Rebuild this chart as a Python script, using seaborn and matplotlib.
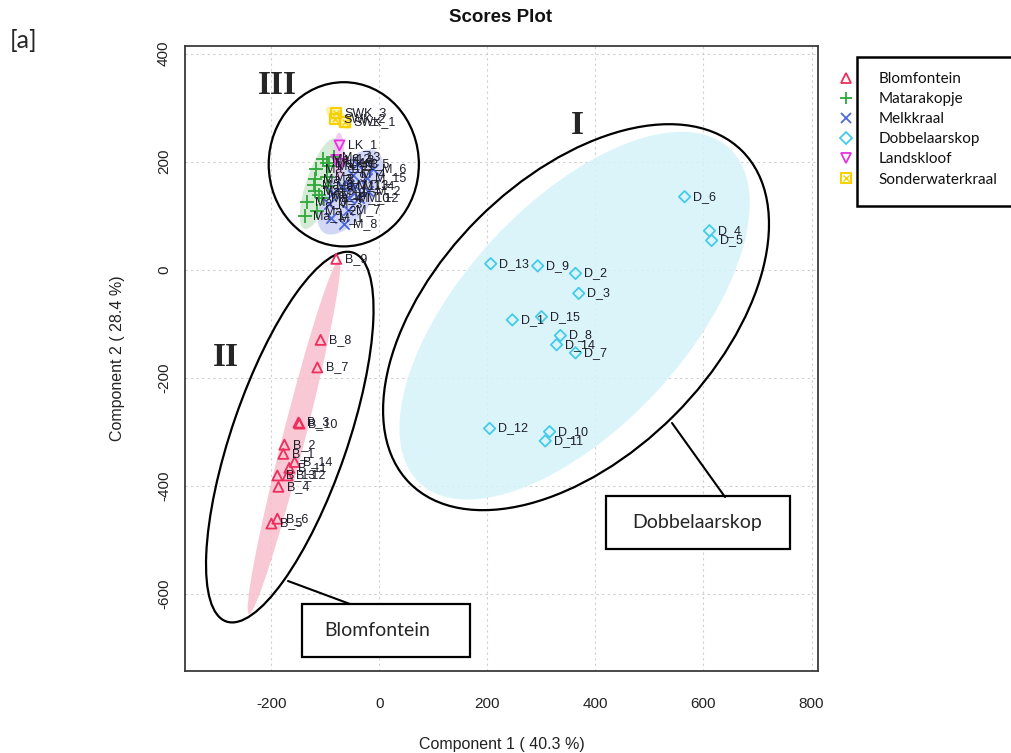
import numpy as np
import pandas as pd
import matplotlib
matplotlib.use("Agg")
import matplotlib.pyplot as plt
import seaborn as sns
from matplotlib.patches import Ellipse, Rectangle
from matplotlib.lines import Line2D
from matplotlib.legend_handler import HandlerTuple

sns.set_theme(style="white")
plt.rcParams['font.family'] = ['Liberation Sans', 'DejaVu Sans']

# ---------------- data (PCA scores) ----------------
groups = ["Blomfontein", "Matarakopje", "Melkkraal", "Dobbelaarskop",
          "Landskloof", "Sonderwaterkraal"]

b_labels = ["B_1", "B_2", "B_3", "B_4", "B_5", "B_6", "B_7", "B_8", "B_9",
            "B_10", "B_11", "B_12", "B_13", "B_14"]
b_pc1 = [-178, -176, -150, -187, -200, -189, -115, -109, -80, -148, -167, -170, -189, -157]
b_pc2 = [-341, -324, -283, -402, -470, -461, -181, -130, 20, -285, -367, -381, -381, -356]

ma_labels = ["Ma_%d" % i for i in range(1, 16)]
ma_pc1 = [-138, -116, -134, -106, -119, -121, -96, -120, -98, -117, -94, -104, -84, -111, -98]
ma_pc2 = [100, 108, 125, 132, 146, 157, 154, 168, 171, 187, 191, 204, 208, 138, 197]

m_labels = ["M_1", "M_8", "M_3", "M_7", "M_9", "M_10", "M_11", "M_12", "M_13",
            "M_2", "M_4", "M_15", "M_5", "M_6", "M_14"]
m_pc1 = [-90, -65, -93, -59, -86, -56, -70, -38, -57, -22, -49, -23, -42, -11, -45]
m_pc2 = [95, 84, 122, 110, 141, 132, 155, 132, 157, 145, 176, 170, 196, 186, 155]

d_labels = ["D_1", "D_2", "D_3", "D_4", "D_5", "D_6", "D_7", "D_8", "D_9",
            "D_10", "D_11", "D_12", "D_13", "D_14", "D_15"]
d_pc1 = [246, 363, 369, 611, 615, 565, 363, 335, 293, 315, 307, 204, 206, 328, 300]
d_pc2 = [-93, -7, -44, 72, 54, 135, -154, -122, 7, -300, -317, -294, 11, -139, -87]

lk_labels = ["LK_1", "LK_2", "LK_3"]
lk_pc1 = [-74, -80, -72]
lk_pc2 = [230, 203, 196]

swk_labels = ["SWK_1", "SWK_2", "SWK_3"]
swk_pc1 = [-64, -82, -80]
swk_pc2 = [273, 279, 290]

x_ticks = [-200, 0, 200, 400, 600, 800]
y_ticks = [-600, -400, -200, 0, 200, 400]

frames = []
for g, lab, xs, ys in [
    ("Blomfontein", b_labels, b_pc1, b_pc2),
    ("Matarakopje", ma_labels, ma_pc1, ma_pc2),
    ("Melkkraal", m_labels, m_pc1, m_pc2),
    ("Dobbelaarskop", d_labels, d_pc1, d_pc2),
    ("Landskloof", lk_labels, lk_pc1, lk_pc2),
    ("Sonderwaterkraal", swk_labels, swk_pc1, swk_pc2),
]:
    frames.append(pd.DataFrame({"group": g, "label": lab, "pc1": xs, "pc2": ys}))
df = pd.concat(frames, ignore_index=True)

# ---------------- styles ----------------
colors = {"Blomfontein": "#EE2E5C", "Matarakopje": "#2FA83C", "Melkkraal": "#4D66E0",
          "Dobbelaarskop": "#45CBEA", "Landskloof": "#E334E0", "Sonderwaterkraal": "#F7D000"}
fills = {"Blomfontein": "#F7BFCD", "Matarakopje": "#CFE8CE", "Melkkraal": "#C9D1F3",
         "Dobbelaarskop": "#D5F3FA", "Landskloof": "#F5C4F3", "Sonderwaterkraal": "#FFF0A8"}

W, H = 1012, 753
fig = plt.figure(figsize=(W / 100, H / 100), dpi=100)
fig.patch.set_facecolor("white")
ax_l, ax_r, ax_t, ax_b = 185, 818, 46, 671
ax = fig.add_axes([ax_l / W, 1 - ax_b / H, (ax_r - ax_l) / W, (ax_b - ax_t) / H])
ax.set_xlim(-360, 812)
ax.set_ylim(-743, 414)


def fx(px):
    return px / W


def fy(py):
    return 1 - py / H


# 95% confidence ellipses from each group's scores
chi = np.sqrt(5.991464547)
for g in groups:
    sub = df[df.group == g]
    cov = np.cov(sub.pc1, sub.pc2)
    vals, vecs = np.linalg.eigh(cov)
    order = vals.argsort()[::-1]
    vals, vecs = vals[order], vecs[:, order]
    ang = np.degrees(np.arctan2(vecs[1, 0], vecs[0, 0]))
    e = Ellipse((sub.pc1.mean(), sub.pc2.mean()), 2 * chi * np.sqrt(vals[0]),
                2 * chi * np.sqrt(vals[1]), angle=ang, facecolor=fills[g],
                edgecolor="none", alpha=0.85, zorder=1)
    ax.add_patch(e)

# points
open_markers = {"Blomfontein": "^", "Dobbelaarskop": "D", "Landskloof": "v"}
for g in groups:
    sub = df[df.group == g]
    c = colors[g]
    if g in open_markers:
        sz = 34 if g == "Dobbelaarskop" else 52
        sns.scatterplot(data=sub, x="pc1", y="pc2", marker=open_markers[g], s=sz,
                        facecolor="none", edgecolor=c, linewidth=1.3, ax=ax, zorder=4)
    elif g == "Matarakopje":
        sns.scatterplot(data=sub, x="pc1", y="pc2", marker="+", s=110, color=c,
                        linewidth=1.3, ax=ax, zorder=4)
    elif g == "Melkkraal":
        sns.scatterplot(data=sub, x="pc1", y="pc2", marker="x", s=55, color=c,
                        linewidth=1.3, ax=ax, zorder=4)
    else:
        sns.scatterplot(data=sub, x="pc1", y="pc2", marker="s", s=50,
                        facecolor="none", edgecolor=c, linewidth=1.6, ax=ax, zorder=4)
        sns.scatterplot(data=sub, x="pc1", y="pc2", marker="x", s=18, color=c,
                        linewidth=1.0, ax=ax, zorder=4)

for _, r in df.iterrows():
    ax.annotate(r.label, (r.pc1, r.pc2), xytext=(6, 0), textcoords="offset points",
                ha="left", va="center", fontsize=9, color="#1e1e2a", zorder=5)

# axes styling (R-like)
ax.set_xticks(x_ticks)
ax.set_yticks(y_ticks)
ax.set_xticklabels([str(v) for v in x_ticks])
ax.set_yticklabels([str(v) for v in y_ticks], rotation=90, va="center")
ax.grid(True, linestyle=(0, (2, 3)), color="#cfcfcf", linewidth=0.8)
ax.set_axisbelow(True)
for s in ax.spines.values():
    s.set_visible(True)
    s.set_color("#3a3a3a")
    s.set_linewidth(1.3)
ax.tick_params(axis="both", direction="out", length=7, width=1, color="#333333",
               labelsize=11, labelcolor="#222222")
ax.tick_params(axis="x", pad=12)
ax.tick_params(axis="y", pad=3)
ax.set_xlabel("Component 1 ( 40.3 %)", fontsize=11.5, color="#222222", va="center")
ax.set_ylabel("Component 2 ( 28.4 %)", fontsize=11.5, color="#222222", va="center", ha="center")
ax.xaxis.set_label_coords(0.5, (ax_b - 744) / (ax_b - ax_t))
ax.yaxis.set_label_coords((118 - ax_l) / (ax_r - ax_l), 0.5)
fig.text(fx(501), fy(17), "Scores Plot", ha="center", va="center", fontsize=13.5,
         fontweight="bold", color="#111111")

# hand-drawn cluster outlines (annotation)
for (cx, cy, w, h, a) in [(364, -88, 870, 514, 45), (-166, -310, 722, 214, 71),
                          (-66, 195, 278, 304, 0)]:
    ax.add_patch(Ellipse((cx, cy), w, h, angle=a, facecolor="none",
                         edgecolor="black", linewidth=1.6, zorder=3))

# roman numerals
for txt, (px, py) in [("III", (277, 86)), ("II", (226, 358)), ("I", (577, 126))]:
    fig.text(fx(px), fy(py), txt, ha="center", va="center", fontsize=24,
             fontweight="bold", family=["Liberation Serif", "DejaVu Serif"])

# callout boxes
for (x0, y0, x1, y1, label, tx, (lx0, ly0, lx1, ly1)) in [
    (606, 496, 790, 549, "Dobbelaarskop", 697, (672, 423, 725, 497)),
    (302, 604, 470, 657, "Blomfontein", 377, (288, 581, 350, 604)),
]:
    fig.add_artist(Line2D([fx(lx0), fx(lx1)], [fy(ly0), fy(ly1)], color="black",
                          linewidth=1.5, transform=fig.transFigure))
    fig.add_artist(Rectangle((fx(x0), fy(y1)), fx(x1) - fx(x0), fy(y0) - fy(y1),
                             transform=fig.transFigure, facecolor="white",
                             edgecolor="black", linewidth=1.6))
    fig.text(fx(tx), fy((y0 + y1) / 2), label, ha="center", va="center",
             fontsize=14, family=["Lato", "DejaVu Sans"])

# panel tag
fig.text(fx(24), fy(40), "[a]", ha="center", va="center", fontsize=18,
         family=["Lato", "DejaVu Sans"])

# legend
handles = [
    Line2D([], [], ls="none", marker="^", mfc="none", mec=colors["Blomfontein"], ms=7, mew=1.3),
    Line2D([], [], ls="none", marker="+", color=colors["Matarakopje"], ms=9, mew=1.3),
    Line2D([], [], ls="none", marker="x", color=colors["Melkkraal"], ms=6.5, mew=1.3),
    Line2D([], [], ls="none", marker="D", mfc="none", mec=colors["Dobbelaarskop"], ms=6, mew=1.3),
    Line2D([], [], ls="none", marker="v", mfc="none", mec=colors["Landskloof"], ms=7, mew=1.3),
    (Line2D([], [], ls="none", marker="s", mfc="none", mec=colors["Sonderwaterkraal"], ms=7, mew=1.5),
     Line2D([], [], ls="none", marker="x", color=colors["Sonderwaterkraal"], ms=4, mew=1.0)),
]
fig.add_artist(Rectangle((fx(857), fy(206)), fx(1016) - fx(857), fy(57) - fy(206),
                         transform=fig.transFigure, facecolor="white",
                         edgecolor="black", linewidth=1.8))
leg = fig.legend(handles, groups, loc="upper left",
                 bbox_to_anchor=(fx(838), fy(72)), bbox_transform=fig.transFigure,
                 frameon=False, borderpad=0, borderaxespad=0, handlelength=1.0,
                 handletextpad=1.65, labelspacing=0.4,
                 prop={"family": ["Lato", "DejaVu Sans"], "size": 11},
                 handler_map={tuple: HandlerTuple(ndivide=1)})
for t in leg.get_texts():
    t.set_color("#111111")

fig.savefig("out.png", dpi=100, facecolor="white")
